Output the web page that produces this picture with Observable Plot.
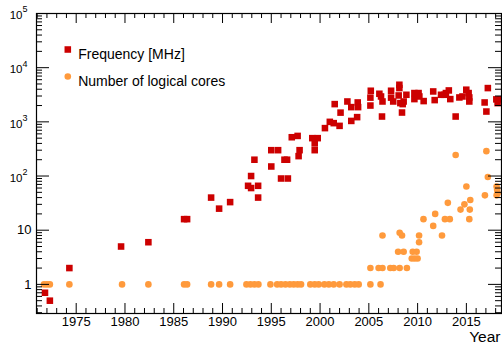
<!DOCTYPE html>
<html>
<head>
<meta charset="utf-8">
<script src="https://cdn.jsdelivr.net/npm/d3@7"></script>
<script src="https://cdn.jsdelivr.net/npm/@observablehq/plot@0.6"></script>
<style>
  html, body { margin: 0; padding: 0; background: #fff; }
  #chart svg { display: block; font-family: "Liberation Sans", Arial, Helvetica, sans-serif; }
  #chart svg text { font-family: "Liberation Sans", Arial, Helvetica, sans-serif; }
</style>
</head>
<body>
<div id="chart"></div>
<script>
// ---- Data ----
const freqYears = [1971.8,1972.3,1974.3,1979.6,1982.4,1986.06,1986.37,1988.83,1989.65,1990.78,
  1992.62,1992.93,1992.93,1993.27,1993.65,1993.65,1995.0,1995.7,1995.0,1996.0,1996.7,1996.35,1996.62,
  1997.1,1997.7,1997.8,1997.9,1999.2,1999.76,1999.45,1999.45,2000.5,2001.0,2001.4,2001.5,2002.0,2002.1,
  2002.8,2003.2,2003.2,2003.8,2003.86,2003.9,2005.2,2005.16,2005.16,2006.08,2006.25,2006.4,2006.35,
  2007.28,2007.28,2007.5,2008.13,2008.13,2008.06,2008.23,2008.47,2008.57,2008.85,2008.4,2009.67,2010.1,
  2009.67,2010.18,2010.62,2011.6,2011.75,2012.4,2012.75,2012.9,2013.2,2013.35,2013.9,2014.28,2014.6,
  2014.99,2015.23,2015.3,2015.3,2016.87,2017.05,2017.2,2018.07,2018.2,2018.5];
const freqValues = [0.7,0.5,2,5,6,16,16,40,25,33,
  66,60,100,200,66,40,300,300,150,90,90,200,200,
  520,550,233,300,500,500,400,300,766,1000,946,2125,843,1480,
  2376,1870,1040,1222,2280,1870,3750,2800,2000,3300,2940,2376,1254,
  3750,2800,2376,4840,4200,3070,2220,2125,2376,3160,1486,3400,3400,
  2630,2940,2417,3640,2520,3160,3160,3400,3800,2630,1254,2820,2940,
  3920,3400,2820,2376,2280,1550,4200,2600,2220,2600];

const coreYears = [1971.7,1972.0,1972.3,1974.3,1979.7,1982.4,1986.06,1986.37,1988.83,1989.65,1990.78,
  1992.45,1992.86,1993.27,1993.68,1994.91,1995.6,1996.0,1996.45,1996.9,1997.3,1997.7,1998.05,1999.0,
  1999.45,1999.86,2000.44,2000.9,2001.4,2002.0,2002.7,2003.1,2003.55,2003.96,2005.16,2006.2,
  2005.16,2006.0,2006.4,2007.2,2007.55,2008.16,2008.9,
  2008.0,2008.57,2009.5,2009.9,
  2009.4,2009.7,2010.0,
  2010.15,
  2006.4,2010.15,2008.4,2012.5,
  2008.16,
  2010.6,2012.8,2013.3,2015.3,
  2011.6,2011.8,2014.4,2015.35,2014.8,2013.1,2015.4,
  2016.9,2018.1,2015.0,2018.1,2018.15,2018.2,2017.2,2013.9,2017.05];
const coreValues = [1,1,1,1,1,1,1,1,1,1,1,
  1,1,1,1,1,1,1,1,1,1,1,1,1,
  1,1,1,1,1,1,1,1,1,1,1,1,
  2,2,2,2,2,2,2,
  4,4,4,4,
  3,3,3,
  6,
  8,8,8,8,
  9,
  16,16,16,16,
  12,20,24,24,30,32,36,
  44,44,64,64,56,48,96,244,288];

const xMajorTicks = [1975,1980,1985,1990,1995,2000,2005,2010,2015];
const xMinorTicks = d3.range(1971, 2019).filter(y => y % 5 !== 0);
const yMajorTicks = [1,10,100,1000,10000,100000];
const yTickBase = ["1","10","10","10","10","10"];
const yTickExp  = ["","","2","3","4","5"];
const yMinorTicks = [];
for (let e = -1; e <= 4; e++) for (let m = 2; m <= 9; m++) {
  const v = m * Math.pow(10, e);
  if (v >= 0.3) yMinorTicks.push(+v.toPrecision(3));
}
const legendLabels = ["Frequency [MHz]", "Number of logical cores"];
const colorFreq = "#cc0000";
const colorCores = "#ff9a3c";

// ---- Build tables ----
const freq = freqYears.map((y, i) => ({year: y, value: freqValues[i]}));
const cores = coreYears.map((y, i) => ({year: y, value: coreValues[i]}));
const yLabels = yMajorTicks.map((v, i) => ({v, base: yTickBase[i], exp: yTickExp[i]}));

const W = 502, H = 352, mL = 36, mR = 1, mT = 13, mB = 39;
const iw = W - mL - mR, ih = H - mT - mB;
const font = "Liberation Sans, Arial, Helvetica, sans-serif";
const T = {fontFamily: font, fill: "#000"};

const chart = Plot.plot({
  width: W, height: H,
  marginLeft: mL, marginRight: mR, marginTop: mT, marginBottom: mB,
  style: {fontFamily: font, background: "#fff", color: "#000"},
  x: {domain: [1970.93, 2018.6], axis: null},
  y: {type: "log", domain: [0.29, 1e5], axis: null},
  marks: [
    // data
    Plot.dot(cores, {x: "year", y: "value", r: 3.3, fill: colorCores}),
    Plot.dot(freq, {x: "year", y: "value", symbol: "square", r: 3.7, fill: colorFreq}),
    // ticks: bottom & top
    Plot.ruleX(xMajorTicks, {x: d => d, insetTop: ih - 10, stroke: "#000"}),
    Plot.ruleX(xMinorTicks, {x: d => d, insetTop: ih - 5, stroke: "#000"}),
    Plot.ruleX(xMajorTicks, {x: d => d, insetBottom: ih - 10, stroke: "#000"}),
    Plot.ruleX(xMinorTicks, {x: d => d, insetBottom: ih - 5, stroke: "#000"}),
    // ticks: left & right
    Plot.ruleY(yMajorTicks, {y: d => d, insetRight: iw - 13, stroke: "#000"}),
    Plot.ruleY(yMinorTicks, {y: d => d, insetRight: iw - 6, stroke: "#000"}),
    Plot.ruleY(yMajorTicks, {y: d => d, insetLeft: iw - 13, stroke: "#000"}),
    Plot.ruleY(yMinorTicks, {y: d => d, insetLeft: iw - 6, stroke: "#000"}),
    Plot.frame({stroke: "#000", strokeWidth: 1.2}),
    // x tick labels
    Plot.text(xMajorTicks, {...T, x: d => d, text: d => String(d), frameAnchor: "bottom",
      lineAnchor: "top", dy: 3, fontSize: 13}),
    // y tick labels
    Plot.text(yLabels.filter(d => d.exp === ""), {...T, y: "v", text: "base", frameAnchor: "left",
      textAnchor: "end", dx: -5, fontSize: 13}),
    Plot.text(yLabels.filter(d => d.exp !== ""), {...T, y: "v", text: "base", frameAnchor: "left",
      textAnchor: "end", dx: -14, dy: 2, fontSize: 11.5}),
    Plot.text(yLabels.filter(d => d.exp !== ""), {...T, y: "v", text: "exp", frameAnchor: "left",
      textAnchor: "start", dx: -14, dy: -4, fontSize: 9}),
    // axis title
    Plot.text(["Year"], {...T, frameAnchor: "bottom-right", textAnchor: "end", dx: -1, dy: 28.5,
      fontSize: 15.5}),
    // legend
    Plot.dot([legendLabels[0]], {frameAnchor: "top-left", dx: 31.3, dy: 36, symbol: "square", r: 3.7, fill: colorFreq}),
    Plot.dot([legendLabels[1]], {frameAnchor: "top-left", dx: 31.3, dy: 63, r: 3.3, fill: colorCores}),
    Plot.text([legendLabels[0]], {...T, frameAnchor: "top-left", text: d => d, textAnchor: "start",
      dx: 41.7, dy: 35.5, fontSize: 14}),
    Plot.text([legendLabels[1]], {...T, frameAnchor: "top-left", text: d => d, textAnchor: "start",
      dx: 41.7, dy: 62.5, fontSize: 14})
  ]
});
document.getElementById("chart").appendChild(chart);
</script>
</body>
</html>
